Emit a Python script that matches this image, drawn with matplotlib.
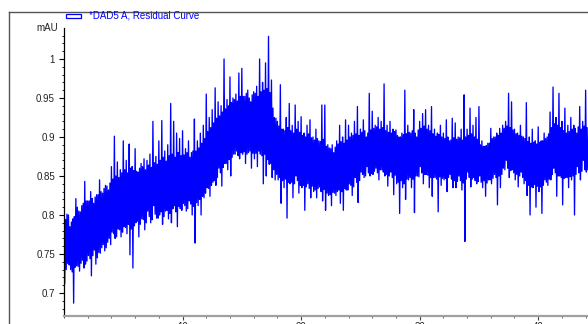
import numpy as np
import matplotlib
matplotlib.use("Agg")
import matplotlib.pyplot as plt
from matplotlib.lines import Line2D
from matplotlib.patches import Rectangle
from matplotlib.ticker import MultipleLocator, FixedLocator

plt.rcParams['font.family'] = ['Liberation Sans', 'DejaVu Sans']

# residual curve: upper / lower extreme every 0.125 min,
# one row per minute (0 .. 44 min)
step_min = 0.125
upper = [
    0.790, 0.794, 0.801, 0.800, 0.785, 0.791, 0.795, 0.798,
    0.821, 0.810, 0.805, 0.804, 0.812, 0.815, 0.843, 0.818,
    0.818, 0.818, 0.830, 0.821, 0.815, 0.823, 0.826, 0.826,
    0.845, 0.830, 0.828, 0.834, 0.838, 0.837, 0.832, 0.841,
    0.862, 0.846, 0.901, 0.850, 0.868, 0.848, 0.858, 0.854,
    0.895, 0.858, 0.870, 0.854, 0.891, 0.860, 0.862, 0.857,
    0.885, 0.856, 0.855, 0.860, 0.866, 0.862, 0.872, 0.858,
    0.870, 0.864, 0.878, 0.861, 0.920, 0.867, 0.875, 0.865,
    0.895, 0.870, 0.921, 0.874, 0.882, 0.869, 0.890, 0.876,
    0.943, 0.878, 0.920, 0.874, 0.905, 0.880, 0.898, 0.876,
    0.908, 0.877, 0.885, 0.880, 0.895, 0.874, 0.880, 0.882,
    0.923, 0.882, 0.895, 0.886, 0.905, 0.892, 0.915, 0.898,
    0.955, 0.907, 0.925, 0.912, 0.935, 0.918, 0.963, 0.924,
    0.945, 0.927, 0.940, 0.932, 1.000, 0.936, 0.948, 0.940,
    0.977, 0.944, 0.950, 0.948, 0.955, 0.946, 0.982, 0.952,
    0.988, 0.952, 0.952, 0.956, 0.960, 0.950, 0.945, 0.954,
    0.958, 0.956, 0.965, 0.952, 1.000, 0.958, 0.970, 0.960,
    0.995, 0.962, 1.029, 0.957, 0.973, 0.937, 0.925, 0.924,
    0.920, 0.914, 0.967, 0.910, 0.910, 0.908, 0.925, 0.912,
    0.943, 0.908, 0.915, 0.905, 0.941, 0.910, 0.920, 0.906,
    0.926, 0.902, 0.905, 0.900, 0.915, 0.904, 0.922, 0.899,
    0.900, 0.896, 0.910, 0.898, 0.895, 0.894, 0.941, 0.897,
    0.941, 0.888, 0.890, 0.886, 0.885, 0.890, 0.880, 0.887,
    0.895, 0.891, 0.915, 0.894, 0.900, 0.892, 0.922, 0.896,
    0.915, 0.900, 0.905, 0.902, 0.920, 0.904, 0.939, 0.902,
    0.910, 0.906, 0.922, 0.908, 0.900, 0.905, 0.956, 0.909,
    0.933, 0.911, 0.915, 0.913, 0.925, 0.910, 0.920, 0.912,
    0.968, 0.908, 0.915, 0.906, 0.920, 0.905, 0.910, 0.907,
    0.909, 0.902, 0.900, 0.900, 0.905, 0.903, 0.960, 0.904,
    0.915, 0.906, 0.905, 0.908, 0.935, 0.905, 0.900, 0.909,
    0.920, 0.911, 0.930, 0.914, 0.935, 0.910, 0.915, 0.908,
    0.939, 0.904, 0.910, 0.901, 0.905, 0.903, 0.915, 0.900,
    0.905, 0.898, 0.922, 0.900, 0.895, 0.896, 0.924, 0.899,
    0.918, 0.897, 0.900, 0.899, 0.910, 0.896, 0.954, 0.900,
    0.910, 0.902, 0.937, 0.904, 0.915, 0.900, 0.925, 0.897,
    0.939, 0.890, 0.895, 0.888, 0.888, 0.889, 0.892, 0.892,
    0.911, 0.898, 0.900, 0.900, 0.905, 0.902, 0.911, 0.905,
    0.915, 0.911, 0.920, 0.914, 0.956, 0.912, 0.945, 0.909,
    0.910, 0.904, 0.905, 0.902, 0.915, 0.901, 0.900, 0.898,
    0.944, 0.894, 0.900, 0.892, 0.910, 0.893, 0.895, 0.891,
    0.913, 0.893, 0.895, 0.895, 0.905, 0.898, 0.900, 0.904,
    0.932, 0.912, 0.964, 0.917, 0.925, 0.915, 0.956, 0.912,
    0.920, 0.908, 0.937, 0.905, 0.915, 0.907, 0.925, 0.910,
    0.915, 0.911, 0.905, 0.913, 0.939, 0.910, 0.920, 0.914,
    0.960, 0.912,
]
lower = [
    0.712, 0.730, 0.738, 0.736, 0.730, 0.727, 0.687, 0.733,
    0.735, 0.734, 0.728, 0.738, 0.742, 0.732, 0.737, 0.741,
    0.748, 0.744, 0.722, 0.748, 0.755, 0.737, 0.745, 0.752,
    0.751, 0.758, 0.762, 0.754, 0.758, 0.765, 0.770, 0.762,
    0.778, 0.776, 0.770, 0.772, 0.782, 0.781, 0.772, 0.778,
    0.785, 0.784, 0.776, 0.788, 0.749, 0.782, 0.732, 0.786,
    0.790, 0.792, 0.772, 0.788, 0.795, 0.794, 0.781, 0.790,
    0.805, 0.798, 0.790, 0.794, 0.812, 0.801, 0.796, 0.796,
    0.800, 0.804, 0.788, 0.798, 0.805, 0.806, 0.795, 0.802,
    0.790, 0.808, 0.812, 0.804, 0.785, 0.811, 0.808, 0.806,
    0.815, 0.812, 0.805, 0.808, 0.818, 0.814, 0.800, 0.811,
    0.764, 0.816, 0.812, 0.820, 0.800, 0.824, 0.822, 0.828,
    0.835, 0.834, 0.824, 0.838, 0.842, 0.844, 0.838, 0.848,
    0.860, 0.854, 0.837, 0.861, 0.866, 0.866, 0.858, 0.871,
    0.850, 0.874, 0.878, 0.878, 0.882, 0.876, 0.872, 0.880,
    0.878, 0.881, 0.866, 0.878, 0.880, 0.882, 0.860, 0.879,
    0.872, 0.879, 0.862, 0.882, 0.878, 0.876, 0.840, 0.878,
    0.850, 0.871, 0.865, 0.866, 0.848, 0.858, 0.845, 0.852,
    0.845, 0.848, 0.815, 0.844, 0.835, 0.846, 0.796, 0.842,
    0.840, 0.842, 0.822, 0.840, 0.850, 0.844, 0.828, 0.838,
    0.835, 0.838, 0.806, 0.836, 0.840, 0.834, 0.822, 0.837,
    0.830, 0.832, 0.822, 0.834, 0.836, 0.830, 0.818, 0.833,
    0.806, 0.828, 0.825, 0.826, 0.812, 0.829, 0.828, 0.825,
    0.830, 0.832, 0.815, 0.830, 0.806, 0.834, 0.832, 0.832,
    0.840, 0.838, 0.825, 0.836, 0.848, 0.842, 0.816, 0.844,
    0.855, 0.852, 0.848, 0.850, 0.862, 0.854, 0.850, 0.853,
    0.852, 0.856, 0.860, 0.854, 0.845, 0.858, 0.858, 0.855,
    0.850, 0.852, 0.837, 0.850, 0.855, 0.848, 0.826, 0.851,
    0.840, 0.842, 0.802, 0.844, 0.835, 0.840, 0.820, 0.846,
    0.845, 0.848, 0.835, 0.846, 0.803, 0.850, 0.850, 0.849,
    0.862, 0.854, 0.840, 0.852, 0.852, 0.851, 0.835, 0.848,
    0.824, 0.848, 0.848, 0.846, 0.804, 0.849, 0.838, 0.847,
    0.845, 0.847, 0.830, 0.848, 0.852, 0.846, 0.835, 0.844,
    0.835, 0.843, 0.850, 0.844, 0.832, 0.841, 0.766, 0.846,
    0.855, 0.848, 0.836, 0.846, 0.848, 0.844, 0.840, 0.843,
    0.850, 0.842, 0.835, 0.844, 0.824, 0.841, 0.845, 0.845,
    0.840, 0.847, 0.852, 0.848, 0.813, 0.850, 0.835, 0.852,
    0.860, 0.858, 0.870, 0.860, 0.848, 0.857, 0.858, 0.854,
    0.845, 0.852, 0.836, 0.850, 0.855, 0.848, 0.840, 0.844,
    0.825, 0.838, 0.800, 0.836, 0.835, 0.839, 0.810, 0.837,
    0.830, 0.836, 0.802, 0.838, 0.845, 0.842, 0.838, 0.846,
    0.845, 0.852, 0.860, 0.854, 0.824, 0.850, 0.850, 0.848,
    0.813, 0.847, 0.848, 0.848, 0.835, 0.849, 0.845, 0.850,
    0.800, 0.852, 0.862, 0.854, 0.845, 0.856, 0.870, 0.858,
    0.855, 0.858,
]
y_ticks = [0.7, 0.75, 0.8, 0.85, 0.9, 0.95, 1.0]
y_labels = ["0.7", "0.75", "0.8", "0.85", "0.9", "0.95", "1"]
x_ticks = [10, 20, 30, 40]
legend_text = "*DAD5 A, Residual Curve"
unit = "mAU"

# zigzag through the extremes, half a step apart
sig = np.empty(2 * len(upper))
sig[0::2] = upper
sig[1::2] = lower
t = np.arange(len(sig)) * step_min / 2

W, H = 588, 324
fig = plt.figure(figsize=(W / 100, H / 100), dpi=100)
fig.patch.set_facecolor("white")

# outer frame (top + left edge visible)
fig.add_artist(Line2D([9 / W, 1], [1 - 12 / H, 1 - 12 / H], color="#555555", lw=1))
fig.add_artist(Line2D([9 / W, 9 / W], [0, 1 - 12 / H], color="#555555", lw=1))

ax = fig.add_axes([64 / W, 1 - 316 / H, 1 - 64 / W, (316 - 28) / H])
ax.plot(t, sig, color="#0000ff", lw=0.95)

ax.set_xlim(0, 44.2)
ax.set_ylim(0.6705, 1.0397)

for s in ["top", "right"]:
    ax.spines[s].set_visible(False)
ax.spines["left"].set_color("black")
ax.spines["left"].set_linewidth(0.9)
ax.spines["bottom"].set_color("#a0a0a0")
ax.spines["bottom"].set_linewidth(1.6)

ax.yaxis.set_major_locator(FixedLocator(y_ticks))
ax.set_yticklabels(y_labels)
ax.yaxis.set_minor_locator(MultipleLocator(0.01))
ax.xaxis.set_major_locator(FixedLocator(x_ticks))
ax.xaxis.set_minor_locator(MultipleLocator(2))

ax.tick_params(axis="y", which="major", length=3.3, width=0.8, pad=3.2,
               labelsize=7, labelcolor="#222222")
ax.tick_params(axis="y", which="minor", length=1.7, width=0.6)
ax.tick_params(axis="x", which="major", length=3, width=0.8, pad=1.5,
               labelsize=7, labelcolor="#222222", color="#444444")
ax.tick_params(axis="x", which="minor", length=1.7, width=0.6, color="#444444")

# unit label at top of y axis
ax.text(-5.5 / (W - 64), 1.0, unit, transform=ax.transAxes, ha="right", va="center",
        fontsize=7, color="#222222")

# legend sample + text
fig.add_artist(Rectangle((66 / W, 1 - 18 / H), 15 / W, 4 / H, fill=False,
                         edgecolor="#0000ff", lw=0.9))
fig.text(89 / W, 1 - 16 / H, legend_text, ha="left", va="center", fontsize=7,
         color="#0000ff")

fig.savefig("out.png", dpi=100)
